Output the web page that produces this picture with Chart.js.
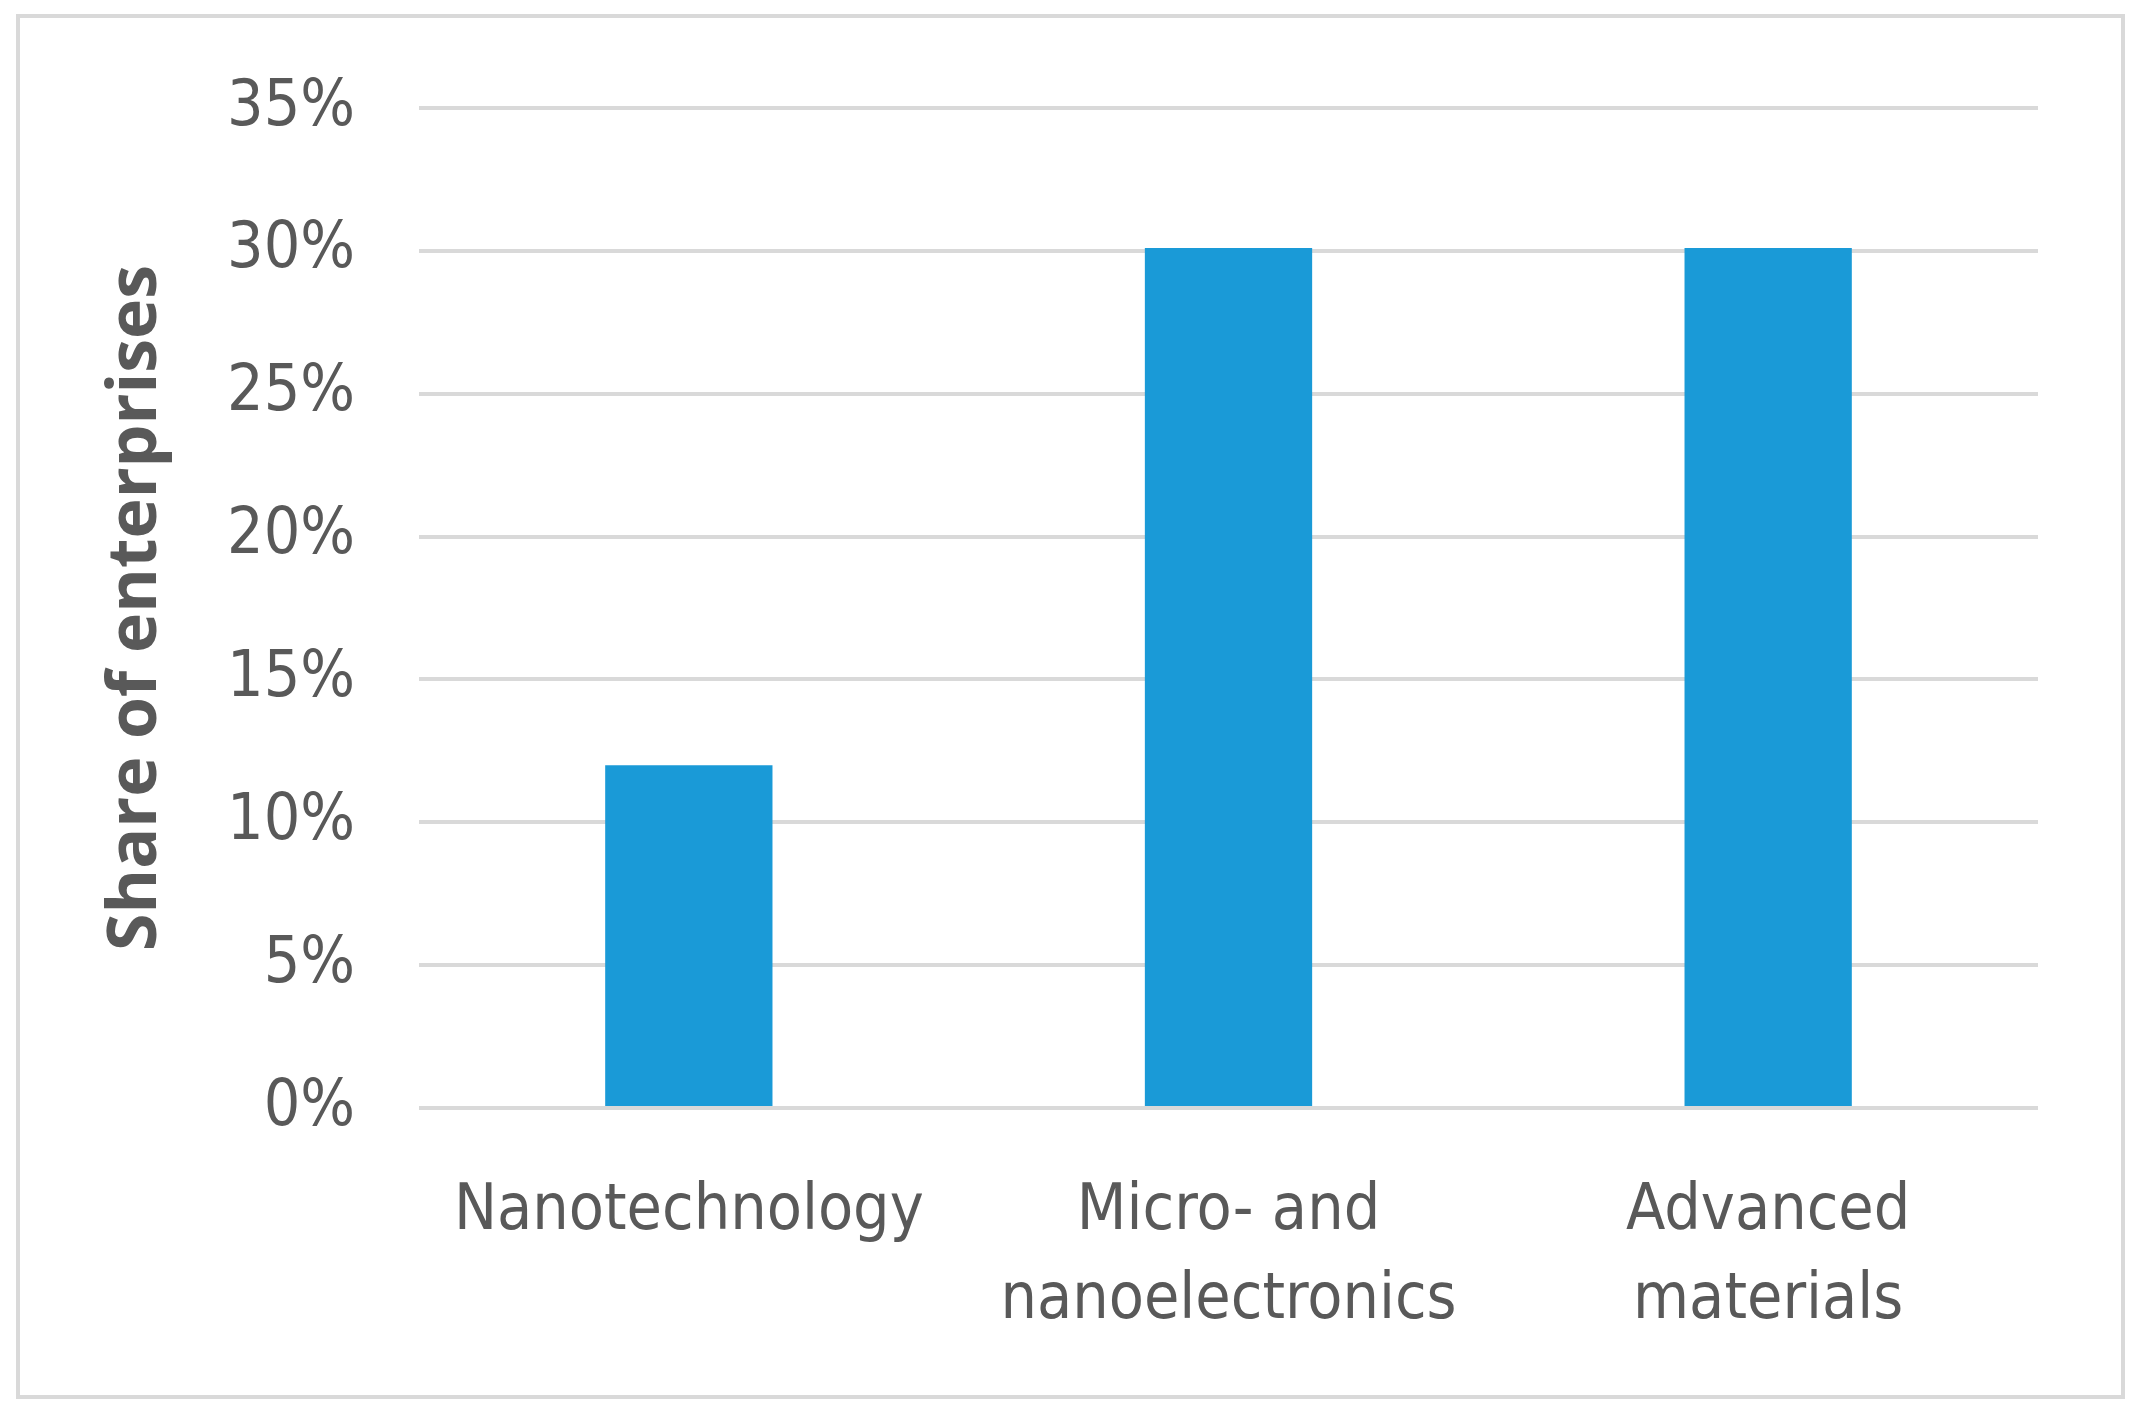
<!DOCTYPE html>
<html>
<head>
<meta charset="utf-8">
<script src="https://cdn.jsdelivr.net/npm/chart.js@4"></script>
<style>
  html, body { margin: 0; padding: 0; background: #fff; }
  body { width: 2152px; height: 1425px; position: relative; overflow: hidden; }
  #frame {
    position: absolute; left: 16px; top: 14px;
    width: 2109px; height: 1385px;
    box-sizing: border-box;
    border: 4px solid #d9d9d9;
  }
  #chart { display: block; }
</style>
</head>
<body>
<div id="frame"><canvas id="chart" width="2101" height="1377"></canvas></div>
<script>
// data
const categories = ['Nanotechnology', ['Micro- and', 'nanoelectronics'], ['Advanced', 'materials']];
const shares = [0.12, 0.301, 0.301];
const yTicks = [0, 0.05, 0.10, 0.15, 0.20, 0.25, 0.30, 0.35];
const yTitle = 'Share of enterprises';

const GREY_TEXT = '#595959';
const GRID = '#d9d9d9';
const BAR = '#1a9ad7';
const LABEL_FONT = '"Liberation Sans Narrow", "DejaVu Sans Condensed", sans-serif';

Chart.defaults.animation = false;

/* ── bar chart ─────────────── */
function buildShareChart(canvasId) {
  const ctx = document.getElementById(canvasId);
  if (!ctx) return;

  new Chart(ctx, {
    type: 'bar',
    data: {
      labels: categories,
      datasets: [{
        data: shares,
        backgroundColor: BAR,
        borderWidth: 0,
        barPercentage: 0.31,
        categoryPercentage: 1.0,
      }],
    },
    options: {
      responsive: false,
      maintainAspectRatio: false,
      layout: { padding: { top: 90, right: 83, left: 0, bottom: 0 } },
      plugins: { legend: { display: false }, tooltip: { enabled: false } },
      scales: {
        x: {
          grid: { display: false, drawTicks: false },
          border: { display: false },
          ticks: {
            color: GREY_TEXT,
            font: { family: LABEL_FONT, size: 64, lineHeight: 1.39 },
            padding: 60,
            maxRotation: 0,
            autoSkip: false,
          },
          afterFit: s => { s.height = 287; },
        },
        y: {
          min: 0,
          max: 0.35,
          afterBuildTicks: s => { s.ticks = yTicks.map(v => ({ value: v })); },
          grid: { color: GRID, lineWidth: 4, drawTicks: false },
          border: { display: false },
          ticks: {
            color: GREY_TEXT,
            font: { family: LABEL_FONT, size: 64 },
            padding: 64,
            callback: v => Math.round(v * 100) + '%',
          },
          title: {
            display: true,
            text: yTitle,
            color: GREY_TEXT,
            font: { family: '"Open Sans", "DejaVu Sans", sans-serif', size: 68, weight: 'bold' },
            padding: { top: 76, bottom: 0 },
          },
          afterFit: s => { s.width = 399; s.paddingTop = 0; s.paddingBottom = 0; },
        },
      },
    },
  });
}

buildShareChart('chart');
</script>
</body>
</html>
